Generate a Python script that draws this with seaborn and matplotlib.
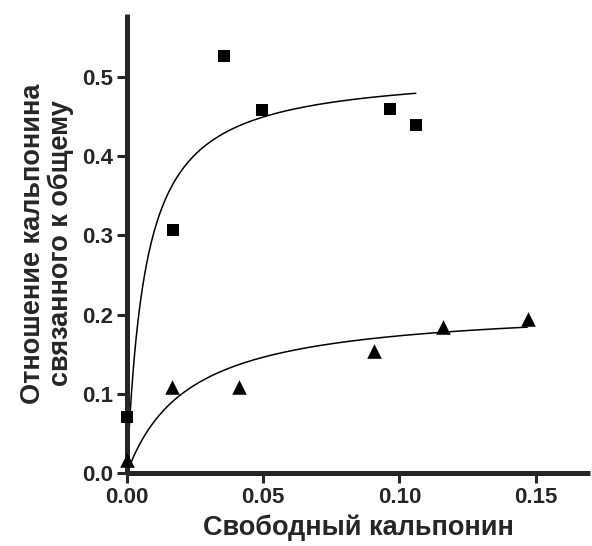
import numpy as np
import pandas as pd
import matplotlib
matplotlib.use("Agg")
import matplotlib.pyplot as plt
import seaborn as sns

sns.set_style("ticks")
plt.rcParams['font.family'] = ['Liberation Sans', 'DejaVu Sans']
plt.rcParams['font.weight'] = 'bold'

# квадраты
sq_x = [0.0, 0.017, 0.0355, 0.0495, 0.0967, 0.106]
sq_y = [0.071, 0.307, 0.527, 0.459, 0.460, 0.440]
# треугольники
tr_x = [0.0, 0.0166, 0.041, 0.0906, 0.1159, 0.147]
tr_y = [0.016, 0.108, 0.109, 0.154, 0.184, 0.194]

# параметры гиперболы Bmax*x/(Kd+x)
sq_bmax, sq_kd = 0.510, 0.0067
tr_bmax, tr_kd = 0.2126, 0.0228

x_ticks = [0.00, 0.05, 0.10, 0.15]
y_ticks = [0.0, 0.1, 0.2, 0.3, 0.4, 0.5]


def fit_curve(xmax, bmax, kd):
    xs = np.linspace(0, xmax, 400)
    return pd.DataFrame({"x": xs, "y": bmax * xs / (kd + xs)})


fig, ax = plt.subplots(figsize=(5.92, 5.46), dpi=100)
fig.subplots_adjust(left=0.2145, right=0.997, bottom=0.1342, top=0.9745)

sns.lineplot(data=fit_curve(max(sq_x), sq_bmax, sq_kd), x="x", y="y",
             ax=ax, color="black", lw=1.1)
sns.lineplot(data=fit_curve(max(tr_x), tr_bmax, tr_kd), x="x", y="y",
             ax=ax, color="black", lw=1.1)

sns.scatterplot(x=sq_x, y=sq_y, ax=ax, marker="s", s=80, color="black",
                edgecolor="black", linewidth=0, clip_on=False, zorder=3)
sns.scatterplot(x=tr_x, y=tr_y, ax=ax, marker="^", s=110, color="black",
                edgecolor="black", linewidth=0, clip_on=False, zorder=3)

ax.set_xlim(0, 0.17)
ax.set_ylim(0, 0.58)
ax.set_xticks(x_ticks)
ax.set_xticklabels([f"{v:.2f}" for v in x_ticks])
ax.set_yticks(y_ticks)
ax.set_yticklabels([f"{v:.1f}" for v in y_ticks])

for side in ["top", "right"]:
    ax.spines[side].set_visible(False)
for side in ["left", "bottom"]:
    ax.spines[side].set_linewidth(3.6)
    ax.spines[side].set_capstyle("butt")
ax.tick_params(width=2.2, length=7, labelsize=16, pad=3)
for lab in ax.get_xticklabels() + ax.get_yticklabels():
    lab.set_fontweight("bold")

ax.set_xlabel("Свободный кальпонин", fontsize=19.5, fontweight="bold", labelpad=5)
ax.set_ylabel("Отношение кальпонина\nсвязанного к общему", fontsize=19.5,
              fontweight="bold", labelpad=6, linespacing=1.05)

fig.savefig("out.png", dpi=100)
